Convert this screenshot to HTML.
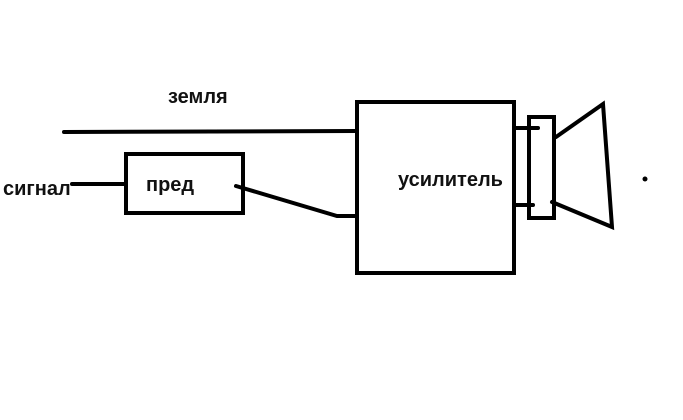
<!DOCTYPE html>
<html><head><meta charset="utf-8"><style>body{margin:0;background:#fff}svg{display:block}text{font-family:"Liberation Sans","DejaVu Sans",sans-serif;font-weight:bold;font-size:20px;fill:#111}</style></head>
<body><svg width="683" height="420" viewBox="0 0 683 420">
<g stroke="#000" stroke-width="4" fill="none" stroke-linecap="round">
<line x1="64" y1="132" x2="357" y2="131"/>
<line x1="72" y1="184" x2="125" y2="184"/>
<rect x="126" y="154" width="117" height="59"/>
<polyline points="236,186 337,216 357,216"/>
<rect x="357" y="102" width="157" height="171"/>
<line x1="514" y1="128" x2="538" y2="128"/>
<line x1="514" y1="205" x2="533" y2="205"/>
<rect x="529" y="117" width="25" height="101"/>
<polyline points="556,137 603,104 612,227 552,202"/>
</g>
<circle cx="645" cy="179" r="2.5" fill="#000"/>
<text x="168" y="103">земля</text>
<text x="3" y="195">сигнал</text>
<text x="146" y="191">пред</text>
<text x="398" y="186">усилитель</text>
</svg></body></html>
